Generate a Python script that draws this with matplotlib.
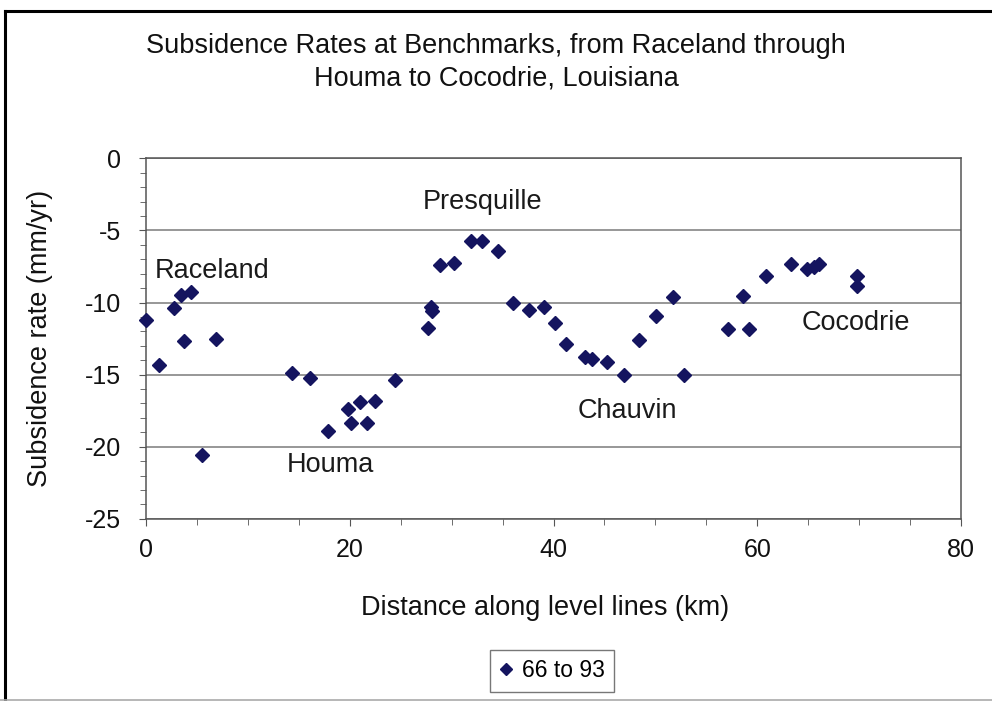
"""
Subsidence rates at benchmarks along the Raceland - Houma - Cocodrie level lines.
"""

import matplotlib
matplotlib.use("Agg")
import matplotlib.pyplot as plt
from matplotlib.lines import Line2D

# benchmark distance along level lines (km) and subsidence rate (mm/yr), 1966 to 1993
distance_km = [
    0.0, 1.3, 2.7, 3.4, 4.4, 3.7, 6.9, 5.5,
    14.3, 16.1, 17.9, 19.8, 20.1, 21.0, 21.7, 22.5, 24.4,
    27.7, 28.0, 28.1, 28.9, 30.2, 31.9, 33.0, 34.5,
    36.0, 37.6, 39.1, 40.1, 41.2, 43.1, 43.8, 45.2, 46.9,
    48.4, 50.1, 51.7, 52.8,
    57.1, 58.6, 59.2, 60.9, 63.3, 64.9, 65.6, 66.1, 69.8, 69.8,
]
rate_mm_yr = [
    -11.2, -14.35, -10.4, -9.5, -9.25, -12.65, -12.55, -20.6,
    -14.9, -15.25, -18.9, -17.4, -18.35, -16.9, -18.35, -16.8, -15.4,
    -11.75, -10.3, -10.6, -7.4, -7.25, -5.7, -5.7, -6.4,
    -10.05, -10.5, -10.3, -11.45, -12.9, -13.75, -13.9, -14.15, -15.05,
    -12.6, -10.95, -9.6, -15.05,
    -11.85, -9.55, -11.85, -8.15, -7.3, -7.7, -7.5, -7.3, -8.15, -8.85,
]
series_label = "66 to 93"

place_names = ["Raceland", "Presquille", "Houma", "Chauvin", "Cocodrie"]
place_x = [0.9, 27.2, 13.8, 42.4, 64.4]
place_y = [-7.8, -3.0, -21.3, -17.5, -11.4]

plt.rcParams["font.family"] = ["Liberation Sans", "DejaVu Sans"]
ink = "#111111"

fig = plt.figure(figsize=(9.92, 7.01), dpi=100)
ax = fig.add_axes([0.1472, 0.26, 0.8216, 0.514])

navy = "#14145f"
ax.plot(distance_km, rate_mm_yr, ls="none", marker="D", ms=6.8,
        color=navy, mec=navy, zorder=3, clip_on=False)

for name, px, py in zip(place_names, place_x, place_y):
    ax.text(px, py, name, fontsize=19.5, color="#1a1a1a", va="center", ha="left")

ax.set_xlim(0, 80)
ax.set_ylim(-25, 0)
ax.set_xticks([0, 20, 40, 60, 80])
ax.set_xticks(range(0, 81, 5), minor=True)
ax.set_yticks([0, -5, -10, -15, -20, -25])
ax.set_yticks(range(-25, 1), minor=True)
ax.set_yticklabels(["0", "-5", "-10", "-15", "-20", "-25"])
ax.tick_params(axis="both", which="both", direction="out", color="#555555",
               labelsize=18, labelcolor=ink)
ax.tick_params(axis="both", which="major", length=5)
ax.tick_params(axis="both", which="minor", length=4)
ax.tick_params(axis="x", pad=9)
ax.tick_params(axis="y", pad=13)

ax.grid(axis="y", which="major", color="#7a7a7a", lw=1.1)
for side in ("left", "bottom", "right", "top"):
    ax.spines[side].set_color("#555555")
    ax.spines[side].set_linewidth(1.1)

ax.set_xlabel("Distance along level lines (km)", fontsize=19.5, color=ink)
ax.set_ylabel("Subsidence rate (mm/yr)", fontsize=19.5, color=ink)
ax.xaxis.set_label_coords(0.49, -0.213)
ax.yaxis.set_label_coords(-0.114, 0.5)

fig.text(0.5, 0.911, "Subsidence Rates at Benchmarks, from Raceland through\n"
         "Houma to Cocodrie, Louisiana", ha="center", va="center",
         fontsize=19.5, linespacing=1.3, color=ink)

handle = Line2D([], [], ls="none", marker="D", ms=6, color=navy)
leg = fig.legend([handle], [series_label], loc="center",
                 bbox_to_anchor=(0.5565, 0.043), fontsize=16.5, frameon=True,
                 fancybox=False, handlelength=0.6, handletextpad=0.4,
                 borderpad=0.4)
leg.get_frame().set_edgecolor("#555555")
leg.get_frame().set_linewidth(1.0)

# outer chart frame
fig.add_artist(Line2D([0.005, 0.005], [0.0, 0.985], transform=fig.transFigure,
                      color="black", lw=2.2))
fig.add_artist(Line2D([0.005, 1.0], [0.985, 0.985], transform=fig.transFigure,
                      color="black", lw=2.2))
fig.add_artist(Line2D([0.0, 1.0], [0.002, 0.002], transform=fig.transFigure,
                      color="#aaaaaa", lw=1.2))

fig.savefig("out.png", dpi=100)
